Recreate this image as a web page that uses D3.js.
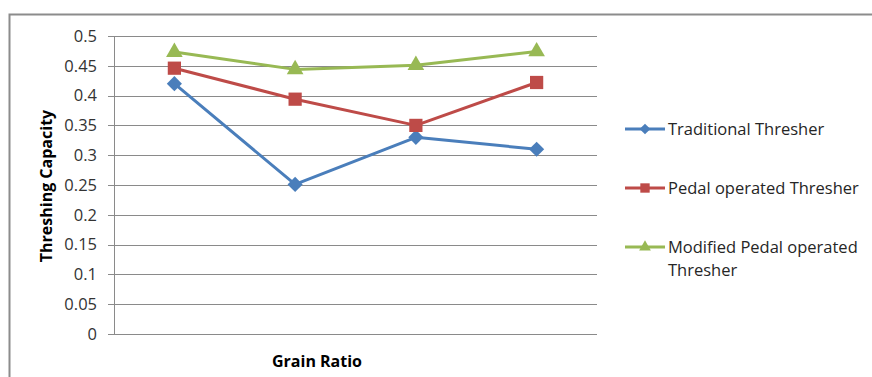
<!DOCTYPE html>
<html>
<head>
<meta charset="utf-8">
<script src="https://cdn.jsdelivr.net/npm/d3@7"></script>
<style>
  body { margin: 0; background: #fff; }
  svg { font-family: "Open Sans", "Liberation Sans", sans-serif; }
</style>
</head>
<body>
<svg id="chart" width="872" height="377"></svg>
<script>
// chart values
var categories = ["1", "2", "3", "4"];
var seriesNames = ["Traditional Thresher", "Pedal operated Thresher", "Modified Pedal operated Thresher"];
var traditional = [0.42, 0.251, 0.33, 0.31];
var pedal = [0.446, 0.394, 0.35, 0.422];
var modified = [0.473, 0.444, 0.451, 0.474];
var yTicks = [0, 0.05, 0.1, 0.15, 0.2, 0.25, 0.3, 0.35, 0.4, 0.45, 0.5];

var colors = ["#4A7EBB", "#BE4B48", "#98B954"];
// diamond is a square turned 45 degrees (Excel style)
var shapes = [d3.symbolSquare, d3.symbolSquare, d3.symbolTriangle];
var rotations = [45, 0, 0];
var sizes = [115, 175, 120];

var svg = d3.select("#chart");
var plotLeft = 114, plotRight = 597, plotTop = 36, plotBottom = 334;

// outer frame
svg.append("rect")
  .attr("x", 9.5).attr("y", 14.5)
  .attr("width", 900).attr("height", 400)
  .attr("fill", "none")
  .attr("stroke", "#8c8c8c")
  .attr("stroke-width", 2);

var x = d3.scaleBand().domain(categories).range([plotLeft, plotRight]);
var y = d3.scaleLinear().domain([0, 0.5]).range([plotBottom, plotTop]);

// gridlines
svg.append("g")
  .selectAll("line")
  .data(yTicks)
  .enter()
  .append("line")
  .attr("x1", plotLeft - 6).attr("x2", plotRight)
  .attr("y1", d => Math.round(y(d)) + 0.5)
  .attr("y2", d => Math.round(y(d)) + 0.5)
  .attr("stroke", "#8a8a8a")
  .attr("stroke-width", 1);

// y axis line
svg.append("line")
  .attr("x1", plotLeft + 0.5).attr("x2", plotLeft + 0.5)
  .attr("y1", plotTop).attr("y2", plotBottom)
  .attr("stroke", "#8a8a8a");

// tick labels
svg.append("g")
  .selectAll("text")
  .data(yTicks)
  .enter()
  .append("text")
  .attr("x", 97)
  .attr("y", d => y(d))
  .attr("dy", "0.35em")
  .attr("text-anchor", "end")
  .attr("font-size", 16.5)
  .attr("fill", "#333")
  .text(d => d3.format("")(d));

// axis titles
svg.append("text")
  .attr("transform", "translate(52,186) rotate(-90)")
  .attr("text-anchor", "middle")
  .attr("font-size", 16)
  .attr("font-weight", "bold")
  .attr("fill", "#000")
  .text("Threshing Capacity");

svg.append("text")
  .attr("x", 317).attr("y", 367)
  .attr("text-anchor", "middle")
  .attr("font-size", 16)
  .attr("font-weight", "bold")
  .attr("fill", "#000")
  .text("Grain Ratio");

var allSeries = [traditional, pedal, modified];
var line = d3.line()
  .x((d, i) => x(categories[i]) + x.bandwidth() / 2)
  .y(d => y(d));

allSeries.forEach(function (values, s) {
  var g = svg.append("g");
  g.append("path")
    .datum(values)
    .attr("d", line)
    .attr("fill", "none")
    .attr("stroke", colors[s])
    .attr("stroke-width", 3)
    .attr("stroke-linejoin", "round");
  g.selectAll("path.marker")
    .data(values)
    .enter()
    .append("path")
    .attr("class", "marker")
    .attr("d", d3.symbol().type(shapes[s]).size(sizes[s]))
    .attr("transform", (d, i) => "translate(" + (x(categories[i]) + x.bandwidth() / 2) + "," + y(d) + ") rotate(" + rotations[s] + ")")
    .attr("fill", colors[s]);
});

// legend
var legendRows = [129, 188, 247];
seriesNames.forEach(function (name, s) {
  var ly = legendRows[s];
  svg.append("line")
    .attr("x1", 625).attr("x2", 665)
    .attr("y1", ly).attr("y2", ly)
    .attr("stroke", colors[s])
    .attr("stroke-width", 3);
  svg.append("path")
    .attr("d", d3.symbol().type(shapes[s]).size(sizes[s] * 0.5))
    .attr("transform", "translate(645," + ly + ") rotate(" + rotations[s] + ")")
    .attr("fill", colors[s]);
  var t = svg.append("text")
    .attr("x", 668).attr("y", ly)
    .attr("dy", "0.35em")
    .attr("font-size", 16.5)
    .attr("fill", "#262626");
  if (s === 2) {
    t.append("tspan").attr("x", 668).text("Modified Pedal operated");
    t.append("tspan").attr("x", 668).attr("dy", 23).text("Thresher");
  } else {
    t.text(name);
  }
});
</script>
</body>
</html>
